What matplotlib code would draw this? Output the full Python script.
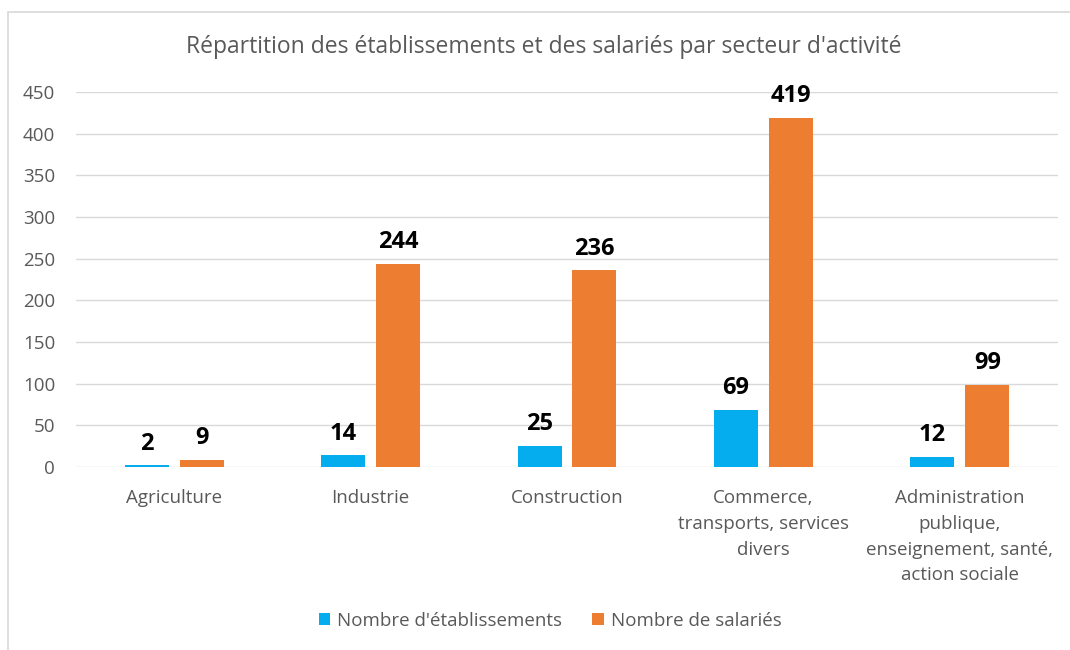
import numpy as np
import matplotlib.pyplot as plt
from matplotlib.patches import Rectangle

categories = ['Agriculture', 'Industrie', 'Construction',
              'Commerce,\ntransports, services\ndivers',
              'Administration\npublique,\nenseignement, santé,\naction sociale']
etablissements = [2, 14, 25, 69, 12]
salaries = [9, 244, 236, 419, 99]
series_names = ["Nombre d'établissements", 'Nombre de salariés']
yticks = list(range(0, 451, 50))

blue = '#05ADEF'
orange = '#ED7D31'
grey = '#595959'

plt.rcParams['font.family'] = ['Open Sans', 'DejaVu Sans']

fig = plt.figure(figsize=(10.7, 6.5), dpi=100)
ax = fig.add_axes([76 / 1070, 1 - 467 / 650, 982 / 1070, 375 / 650])

# chart border, cut at right and bottom like the screenshot
fig.patches.append(Rectangle((8 / 1070, -0.1), 1.2, 1 - 12 / 650 + 0.1,
                             transform=fig.transFigure, fill=False,
                             edgecolor='#D9D9D9', linewidth=1.2))

x = np.arange(len(categories))
w = 0.224
b1 = ax.bar(x - 0.14, etablissements, w, color=blue, label=series_names[0], zorder=3)
b2 = ax.bar(x + 0.14, salaries, w, color=orange, label=series_names[1], zorder=3)

for bars in (b1, b2):
    for r in bars:
        ax.annotate(str(int(r.get_height())),
                    (r.get_x() + r.get_width() / 2, r.get_height()),
                    xytext=(0, 7), textcoords='offset points',
                    ha='center', va='bottom', fontsize=17, fontweight='bold',
                    color='black')

ax.set_xlim(-0.5, len(categories) - 0.5)
ax.set_ylim(0, 450)
ax.set_yticks(yticks)
ax.set_xticks(x)
ax.set_xticklabels(categories, fontsize=13.5, color=grey, linespacing=1.55)
ax.tick_params(axis='y', labelsize=13.5, labelcolor=grey, length=0, pad=15)
ax.tick_params(axis='x', length=0, pad=16)
ax.grid(axis='y', color='#D9D9D9', linewidth=1, zorder=0)
for s in ax.spines.values():
    s.set_visible(False)

fig.text(0.508, 1 - 47 / 650, "Répartition des établissements et des salariés par secteur d'activité",
         ha='center', va='center', fontsize=16.5, color=grey)

ax.legend(loc='center', bbox_to_anchor=(0.483, (467 - 621) / 375), ncol=2,
          frameon=False, fontsize=13.5, labelcolor=grey, handlelength=0.6,
          handleheight=0.6, handletextpad=0.4, columnspacing=1.6)

fig.savefig('out.png', dpi=100)
